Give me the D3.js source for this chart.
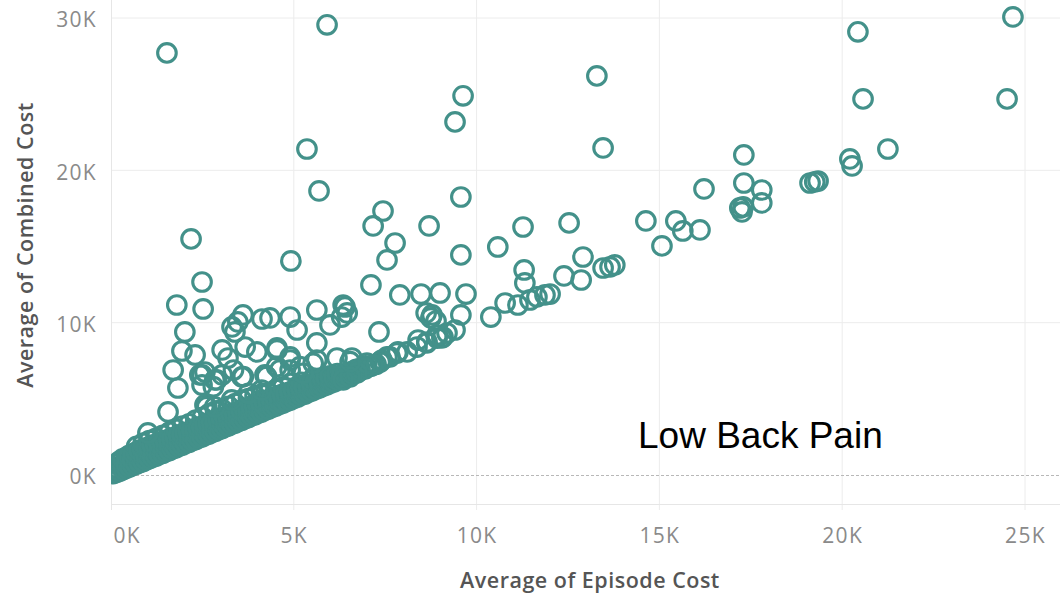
<!DOCTYPE html>
<html>
<head>
<meta charset="utf-8">
<script src="https://cdn.jsdelivr.net/npm/d3@7"></script>
<style>
  html, body { margin: 0; padding: 0; background: #ffffff; }
  svg { display: block; }
  .tick text { font-family: "Open Sans", sans-serif; font-size: 21px; fill: #8a8a8a; letter-spacing: 1.3px; }
  .axis-title { font-family: "Open Sans", sans-serif; font-size: 21.5px; font-weight: 600; fill: #555555; letter-spacing: 0.5px; }
  .annotation { font-family: "Liberation Sans", Arial, sans-serif; font-size: 37px; fill: #000000; }
</style>
</head>
<body>
<svg id="chart" width="1060" height="597"></svg>
<script>
// Axis ticks (currency, thousands)
const xTicks = [0, 5000, 10000, 15000, 20000, 25000];
const yTicks = [0, 10000, 20000, 30000];

// Average of Episode Cost vs Average of Combined Cost, one pair per episode group.
// High outliers and the upper-right spread
const outerPoints = [
  [1530,27710],[5910,29550],[5360,21400],[5690,18650],[2190,15500],[2490,12670],[4920,14050],[1800,11160],[2520,10900],
  [9630,24890],[9410,23180],[13290,26200],[13460,21470],[9570,18250],[7440,17330],[7170,16350],[8700,16350],[7770,15230],
  [7550,14120],[9570,14450],[7110,12480],[11270,16280],[10580,14970],[12530,16550],[14630,16680],[15450,16680],[15070,15040],
  [15640,16020],[16110,16090],[16220,18780],
  [24670,30070],[20430,29090],[20570,24690],[24510,24690],[21250,21400],[20210,20750],[20270,20290],[17310,21010],[17310,19170],
  [17800,18710],[17800,17860],[17200,17530],[17260,17270],[17290,17600],[19120,19170],[19250,19240],[19340,19300],
  [11300,13460],[11320,12610],[12910,14310],[12390,13070],[12860,12800],[13460,13590],[13650,13660],[13780,13790],
  [7900,11820],[8480,11880],[9000,11950],[9710,11880],[10390,10370],[10780,11290],[11130,11160],[11460,11490],[11650,11690],
  [11870,11820],[12010,11880],[9570,10510],[8780,10510],[8620,10640],[8750,10310],[8890,10110]
];

// Mid-range spread above the main band
const midPoints = [
  [6400,11030],[6460,10640],[6350,11160],[6310,10370],[5630,10830],[5990,9850],[4900,10370],[5090,9520],[4350,10310],
  [5630,8670],[4540,8340],[4900,7750],[7330,9390],
  [7550,7750],[7820,8010],[8100,8080],[8370,8400],[8640,8670],[8920,8990],[9080,9060],[8920,9190],[9050,9000],[9190,9320],
  [9410,9520],[8400,8860],[8640,8730],
  [5630,7550],[6180,7680],[6590,7680],[7000,7350],[7360,7420],
  [7850,8080],[7630,7750],[7410,7550],[7170,7220],[6950,7030],[6730,6700],[6540,6440],[6350,6240],
  [2020,9390],[1940,8140],[2300,7880],[1700,6890],[1830,5710],[2490,6570],[2490,5910],[1560,4140],[1010,2760],
  [3310,9720],[3470,10050],[3610,10510],[3390,9390],[4130,10240],
  [3040,8210],[3200,7680],[3670,8400],[3990,8080],[4540,8210],
  [2570,6760],[2840,6240],[3040,6570],[3580,6440],[4210,6570],[2570,4600],[2620,4480],
  [2430,6570],[2890,6240],[3350,6890],[3620,6460],[2800,5800],
  [4260,6460],[4620,6890],[4900,7550],[5170,7110],[5530,7330],[6540,7440],
  [2840,4480],[3300,4930],[3760,5360],[4120,5580],
  [4530,7110],[4900,6890],[5260,6680]
];

// The dense band of low-cost episodes just above the diagonal
const bandPoints = [
  [60,90],[40,330],[150,180],[130,470],[170,720],[240,250],[250,580],[230,900],[330,360],[340,660],[320,1060],
  [420,450],[410,770],[430,1170],[510,540],[520,870],[500,1290],[600,630],[590,980],[610,1400],[690,710],[700,1070],
  [680,1490],[700,1880],[780,810],[790,1160],[770,1620],[870,880],[880,1260],[860,1690],[880,2090],[960,1000],[950,1330],
  [970,1760],[1050,1070],[1060,1430],[1040,1840],[1050,2260],[1140,1180],[1150,1510],[1130,1960],[1230,1250],[1240,1610],
  [1220,1990],[1230,2410],[1320,1360],[1330,1690],[1310,2110],[1410,1430],[1420,1790],[1400,2190],[1420,2610],[1500,1540],
  [1510,1860],[1490,2260],[1590,1610],[1600,1960],[1580,2340],[1600,2810],[1680,1720],[1690,2040],[1670,2410],[1770,1790],
  [1780,2130],[1760,2490],[1780,3010],[1860,1900],[1870,2210],[1850,2610],[1950,1970],[1960,2310],[1940,2690],[1960,3210],
  [2040,2080],[2050,2390],[2030,2760],[2130,2150],[2140,2490],[2120,2840],[2140,3360],[2220,2260],[2230,2570],[2210,2960],
  [2310,2330],[2320,2660],[2300,3040],[2320,3610],[2400,2440],[2410,2750],[2390,3110],[2490,2510],[2500,2840],[2480,3190],
  [2500,3790],[2580,2620],[2590,2920],[2570,3310],[2670,2690],[2680,3010],[2660,3390],[2680,4010],[2760,2800],[2770,3090],
  [2750,3460],[2850,2870],[2860,3210],[2840,3540],[2860,4190],[2940,2980],[2950,3270],[2930,3660],[3030,3050],[3040,3390],
  [3020,3740],[3040,4310],[3120,3160],[3130,3450],[3110,3810],[3210,3230],[3220,3560],[3200,3890],[3220,4510],[3300,3340],
  [3310,3640],[3290,4010],[3390,3410],[3400,3730],[3380,4090],[3400,4690],[3480,3520],[3490,3810],[3470,4160],[3570,3590],
  [3580,3910],[3560,4240],[3580,4910],[3660,3700],[3670,3990],[3650,4360],[3750,3770],[3760,4090],[3740,4390],[3760,5010],
  [3840,3880],[3850,4170],[3830,4510],[3930,3950],[3940,4260],[3920,4590],[3940,5190],[4020,4060],[4030,4340],[4010,4660],
  [4110,4130],[4120,4440],[4100,4740],[4120,5310],[4200,4240],[4210,4520],[4190,4860],[4300,4320],[4310,4630],[4290,4940],
  [4310,5390],[4400,4440],[4410,4710],[4390,5010],[4500,4520],[4510,4810],[4490,5090],[4510,5610],[4600,4640],[4610,4890],
  [4590,5210],[4700,4720],[4710,5010],[4690,5290],[4710,5790],[4800,4840],[4810,5090],[4790,5360],[4900,4920],[4910,5210],
  [4890,5440],[4910,6010],[5000,5040],[5010,5270],[4990,5560],[5100,5120],[5110,5390],[5090,5640],[5200,5240],[5210,5470],
  [5190,5710],[5210,6090],[5300,5320],[5310,5590],[5290,5790],[5400,5440],[5410,5660],[5390,5910],[5500,5520],[5510,5770],
  [5490,5990],[5510,6310],[5600,5640],[5610,5850],[5590,6110],[5700,5720],[5710,5960],[5690,6190],[5800,5840],[5810,6040],
  [5790,6310],[5900,5920],[5910,6150],[5890,6390],[6000,6040],[6010,6240],[5990,6510],[6100,6120],[6110,6350],[6200,6240],
  [6210,6430],[6190,6660],[6300,6320],[6310,6550],[6400,6440],[6410,6630],[6500,6520],[6510,6740],[6600,6640],[6610,6810],
  [6700,6720],[6710,6940],[6800,6840],[6810,6990],[6950,6970],[6960,7160],[7100,7140],[7250,7270]
];

const points = bandPoints.concat(midPoints, outerPoints);

const plot = { left: 111, right: 1060, top: 0, bottom: 504 };

const x = d3.scaleLinear().domain([0, 25000]).range([111, 1025]);
const y = d3.scaleLinear().domain([0, 30000]).range([475, 18]);
const fmtK = d => (d / 1000) + "K";

const svg = d3.select("#chart");

// Gridlines
const grid = svg.append("g");
grid.selectAll("line.vx").data(xTicks.slice(1)).join("line")
  .attr("x1", d => x(d)).attr("x2", d => x(d))
  .attr("y1", plot.top).attr("y2", plot.bottom + 6)
  .attr("stroke", "#ececec").attr("stroke-width", 1);
grid.selectAll("line.hy").data(yTicks.filter(d => d !== 0)).join("line")
  .attr("x1", plot.left).attr("x2", plot.right)
  .attr("y1", d => y(d)).attr("y2", d => y(d))
  .attr("stroke", "#ececec").attr("stroke-width", 1);
// plot frame (left and bottom)
grid.append("line").attr("x1", plot.left + 0.5).attr("x2", plot.left + 0.5)
  .attr("y1", plot.top).attr("y2", plot.bottom + 6).attr("stroke", "#e6e6e6");
grid.append("line").attr("x1", plot.left).attr("x2", plot.right)
  .attr("y1", plot.bottom + 0.5).attr("y2", plot.bottom + 0.5).attr("stroke", "#e6e6e6");
// zero line
grid.append("line").attr("x1", plot.left).attr("x2", plot.right)
  .attr("y1", y(0) + 0.5).attr("y2", y(0) + 0.5)
  .attr("stroke", "#b8b8b8").attr("stroke-width", 1).attr("stroke-dasharray", "3,2");

// Marks
svg.append("clipPath").attr("id", "plotclip").append("rect")
  .attr("x", plot.left).attr("y", plot.top)
  .attr("width", plot.right - plot.left).attr("height", plot.bottom - plot.top);

svg.append("g").attr("clip-path", "url(#plotclip)")
  .selectAll("circle").data(points).join("circle")
  .attr("cx", d => x(d[0])).attr("cy", d => y(d[1]))
  .attr("r", 9.3)
  .attr("fill", "none")
  .attr("stroke", "#43918a")
  .attr("stroke-width", 3.1);

// Axes
const xAxis = svg.append("g").attr("transform", `translate(0,${plot.bottom})`)
  .call(d3.axisBottom(x).tickValues(xTicks).tickFormat(fmtK).tickSize(0).tickPadding(24));
xAxis.select(".domain").remove();
xAxis.selectAll(".tick text").filter(d => d === 0)
  .attr("text-anchor", "start").attr("x", 2);

const yAxis = svg.append("g").attr("transform", `translate(${plot.left},0)`)
  .call(d3.axisLeft(y).tickValues(yTicks).tickFormat(fmtK).tickSize(0).tickPadding(14));
yAxis.select(".domain").remove();
yAxis.selectAll(".tick text").attr("dy", "0.42em");

// Axis titles
svg.append("text").attr("class", "axis-title")
  .attr("x", 590).attr("y", 588).attr("text-anchor", "middle")
  .text("Average of Episode Cost");
svg.append("text").attr("class", "axis-title")
  .attr("transform", "translate(33,245) rotate(-90)").attr("text-anchor", "middle")
  .text("Average of Combined Cost");

// Annotation
svg.append("text").attr("class", "annotation")
  .attr("x", 638).attr("y", 448)
  .text("Low Back Pain");
</script>
</body>
</html>
